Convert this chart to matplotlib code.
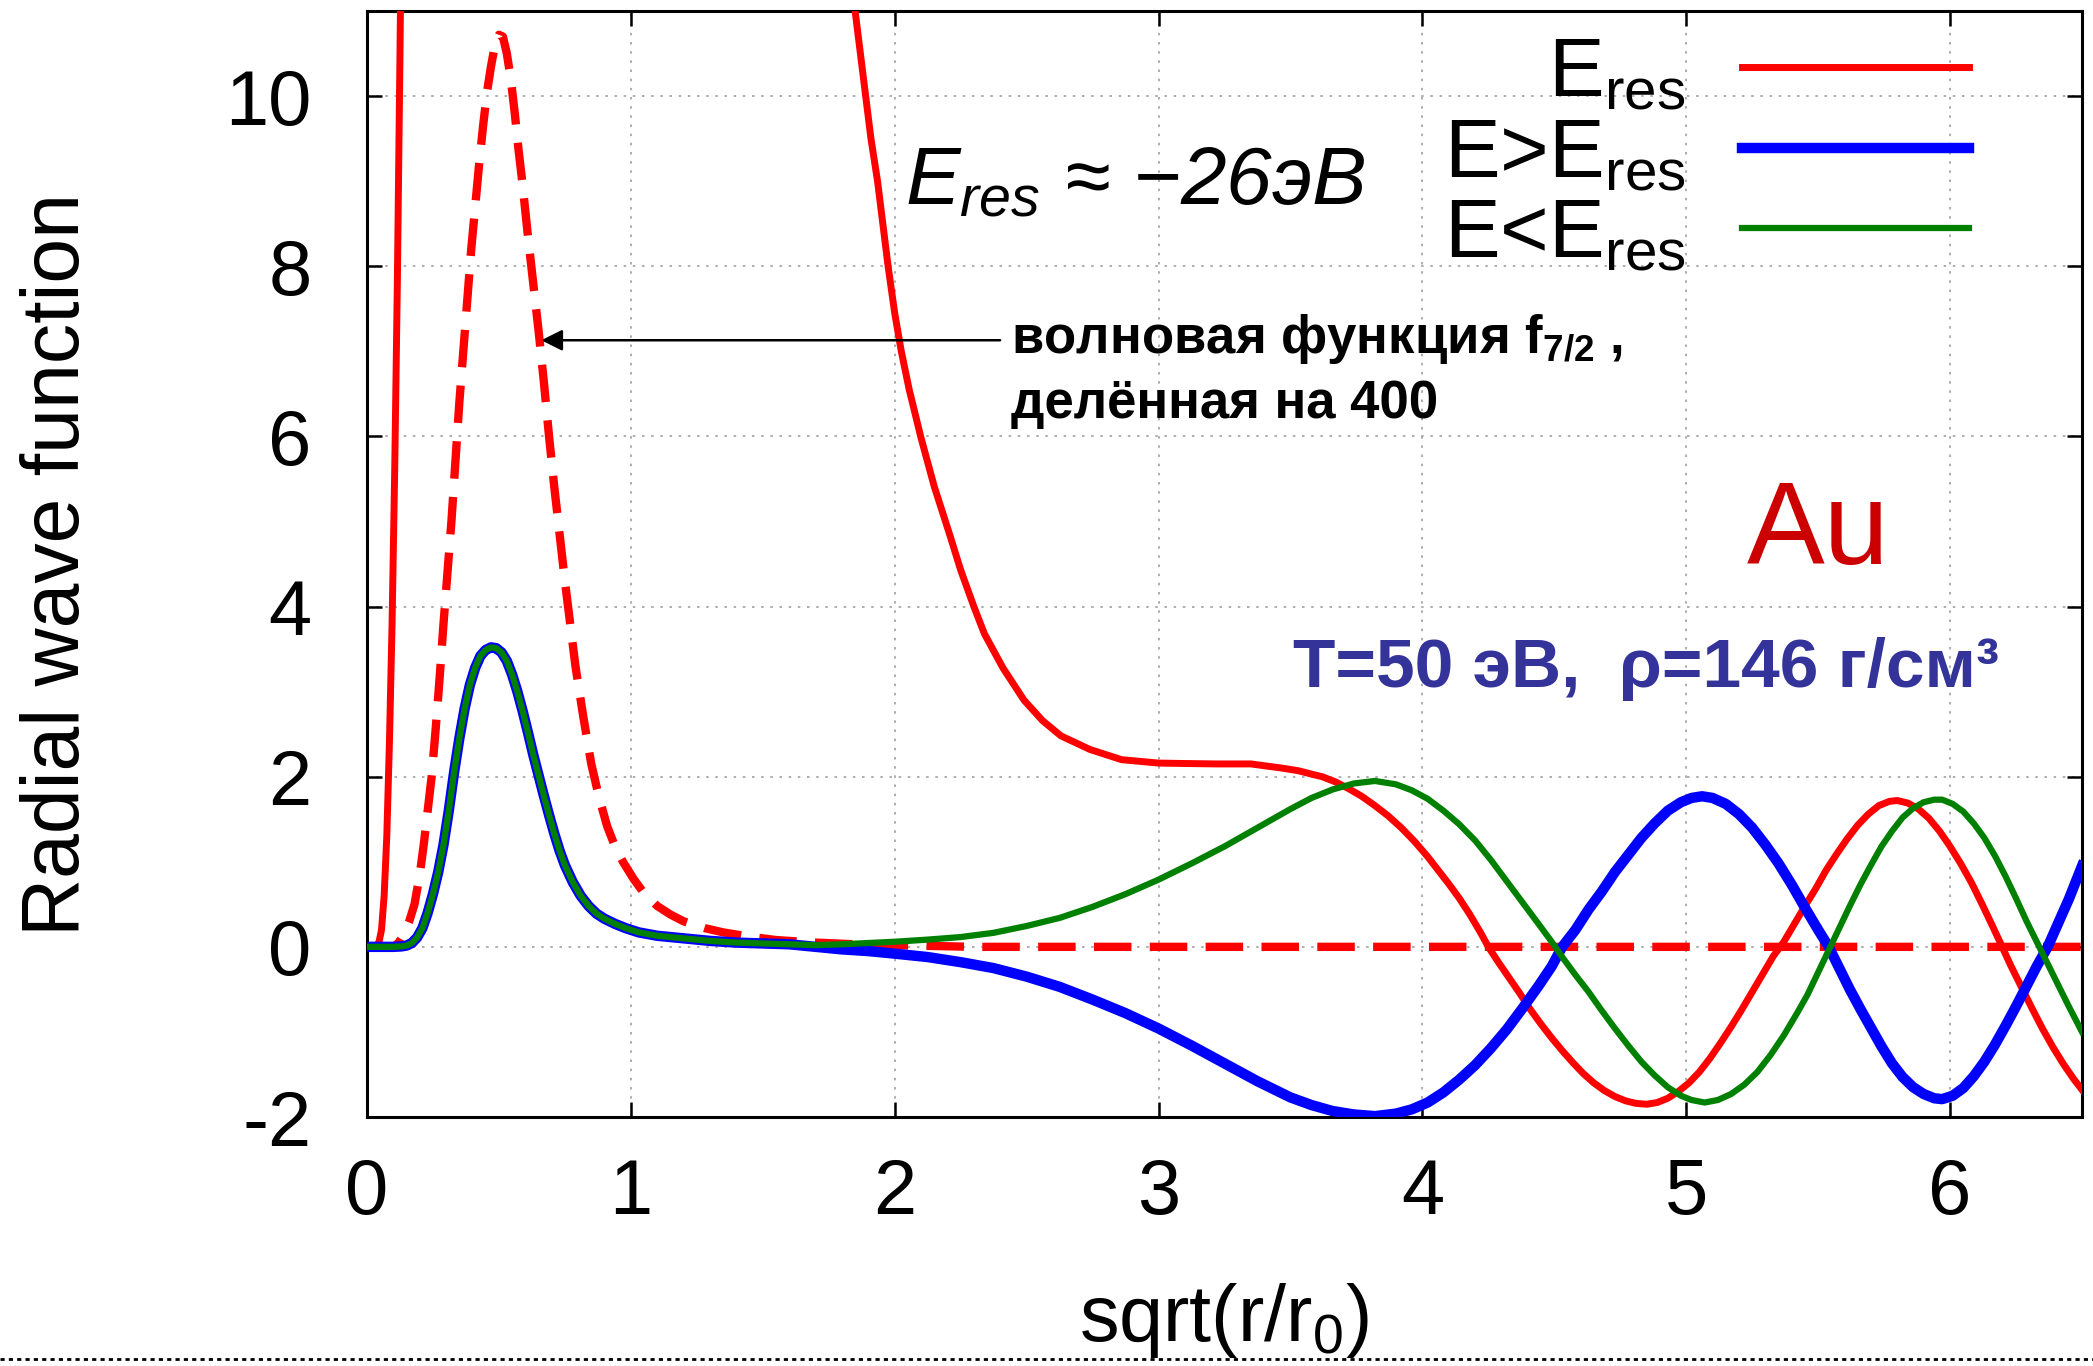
import matplotlib
matplotlib.use("Agg")
import matplotlib.pyplot as plt
from matplotlib.lines import Line2D

plt.rcParams['font.family'] = ['Liberation Sans', 'DejaVu Sans']
plt.rcParams['mathtext.fontset'] = 'custom'
plt.rcParams['mathtext.rm'] = 'Liberation Sans'
plt.rcParams['mathtext.it'] = 'Liberation Sans:italic'
plt.rcParams['mathtext.bf'] = 'Liberation Sans:bold'
plt.rcParams['axes.unicode_minus'] = False

# --- data ---
# E = E_res (red solid); off scale between ~0.13 and ~1.8
x_res = [0.0, 0.03, 0.045, 0.055, 0.065, 0.075, 0.085, 0.095, 0.105, 0.115,
         0.125, 0.135, 0.15,
         1.78, 1.80, 1.83, 1.85, 1.87, 1.89, 1.91, 1.935, 1.955, 1.975, 2.0,
         2.025, 2.055, 2.10, 2.15, 2.21, 2.25, 2.30, 2.34, 2.41, 2.49,
         2.56, 2.63, 2.74, 2.86, 3.0, 3.1, 3.22, 3.35, 3.47, 3.53,
         3.58, 3.62, 3.67, 3.72, 3.77, 3.82,
         3.87, 3.92, 3.97, 4.02, 4.06, 4.10, 4.14, 4.18, 4.22, 4.25,
         4.29, 4.33, 4.37, 4.41, 4.45, 4.49, 4.53, 4.57, 4.61, 4.65,
         4.69, 4.73, 4.77, 4.81, 4.85, 4.89, 4.93, 4.97, 5.01, 5.05,
         5.09, 5.13, 5.17, 5.21, 5.25, 5.29, 5.33, 5.37, 5.41, 5.45,
         5.49, 5.53, 5.57, 5.61, 5.65, 5.69, 5.73, 5.77, 5.80, 5.84,
         5.88, 5.92, 5.96, 6.00, 6.04, 6.08, 6.12, 6.16, 6.19, 6.23,
         6.27, 6.31, 6.35, 6.39, 6.43, 6.47, 6.5]
y_res = [0.0, 0.0, 0.05, 0.2, 0.6, 1.3, 2.4, 3.8, 5.6, 7.8,
         10.5, 13.5, 17.0,
         13.5, 12.3, 11.5, 11.0, 10.5, 10.0, 9.5, 9.0, 8.5, 8.0, 7.45,
         7.0, 6.55, 5.98, 5.41, 4.83, 4.43, 4.0, 3.68, 3.28, 2.90,
         2.66, 2.48, 2.32, 2.20, 2.16, 2.155, 2.15, 2.15, 2.10, 2.07,
         2.03, 2.0, 1.94, 1.86, 1.77, 1.66,
         1.54, 1.40, 1.24, 1.06, 0.9, 0.74, 0.57, 0.38, 0.17, 0.0,
         -0.19, -0.37, -0.55, -0.74, -0.91, -1.07, -1.22, -1.36, -1.49, -1.60,
         -1.69, -1.76, -1.81, -1.84, -1.85, -1.83, -1.78, -1.70, -1.60, -1.47,
         -1.31, -1.13, -0.94, -0.74, -0.53, -0.32, -0.11, 0.06, 0.27, 0.48,
         0.68, 0.90, 1.09, 1.27, 1.43, 1.56, 1.66, 1.71, 1.72, 1.69,
         1.62, 1.51, 1.36, 1.18, 0.98, 0.76, 0.51, 0.25, 0.05, -0.22,
         -0.47, -0.72, -0.96, -1.18, -1.38, -1.56, -1.68]

# f_7/2 wave function divided by 400 (red dashed)
x_f72 = [0.0, 0.10, 0.12, 0.14, 0.16, 0.18, 0.20, 0.215, 0.23, 0.245,
         0.26, 0.275, 0.29, 0.305, 0.32, 0.335, 0.35, 0.365, 0.38, 0.395,
         0.41, 0.425, 0.44, 0.455, 0.47, 0.485, 0.50, 0.515, 0.53, 0.545,
         0.56, 0.575, 0.59, 0.61, 0.63, 0.65, 0.67, 0.69, 0.71, 0.73,
         0.75, 0.77, 0.79, 0.82, 0.85, 0.88, 0.91, 0.94, 0.97, 1.01,
         1.05, 1.1, 1.15, 1.2, 1.28, 1.35, 1.45, 1.55, 1.7, 1.85,
         2.0, 2.3, 6.5]
y_f72 = [0.0, 0.0, 0.05, 0.15, 0.3, 0.5, 0.85, 1.2, 1.6, 2.0,
         2.55, 3.15, 3.8, 4.4, 5.0, 5.7, 6.4, 7.0, 7.6, 8.2,
         8.7, 9.2, 9.65, 10.05, 10.35, 10.6, 10.72, 10.7, 10.5, 10.2,
         9.8, 9.35, 8.95, 8.35, 7.8, 7.25, 6.65, 6.0, 5.4, 4.85,
         4.3, 3.8, 3.3, 2.7, 2.15, 1.75, 1.42, 1.18, 1.0, 0.8,
         0.63, 0.48, 0.38, 0.3, 0.22, 0.17, 0.12, 0.08, 0.05, 0.03,
         0.02, 0.0, 0.0]

# common inner part of E>E_res and E<E_res
x_core = [0.0, 0.10, 0.13, 0.15, 0.17, 0.19, 0.21, 0.23, 0.25, 0.27,
          0.29, 0.31, 0.33, 0.35, 0.37, 0.39, 0.41, 0.43, 0.45, 0.47,
          0.49, 0.51, 0.53, 0.55, 0.57, 0.59, 0.61, 0.63, 0.65, 0.67,
          0.69, 0.71, 0.73, 0.75, 0.78, 0.81, 0.84, 0.87, 0.90, 0.94,
          0.98, 1.03, 1.1, 1.2, 1.3, 1.4, 1.5, 1.6]
y_core = [0.0, 0.0, 0.005, 0.015, 0.045, 0.11, 0.22, 0.4, 0.62, 0.88,
          1.2, 1.6, 2.05, 2.45, 2.8, 3.08, 3.28, 3.42, 3.49, 3.52,
          3.51, 3.46, 3.36, 3.2, 3.0, 2.77, 2.52, 2.26, 2.02, 1.78,
          1.55, 1.33, 1.13, 0.96, 0.76, 0.6, 0.48, 0.39, 0.33, 0.27,
          0.22, 0.17, 0.13, 0.1, 0.07, 0.05, 0.04, 0.03]

# E > E_res (blue)
x_hi = x_core + [1.7, 1.8, 1.9, 2.0, 2.125, 2.25, 2.375, 2.5, 2.625, 2.75,
                 2.875, 3.0, 3.125, 3.25, 3.375, 3.5, 3.58, 3.66, 3.74, 3.82,
                 3.90, 3.96, 4.02, 4.08, 4.14, 4.20, 4.26, 4.32, 4.38, 4.44,
                 4.49, 4.53, 4.58, 4.63, 4.68, 4.73, 4.78, 4.83, 4.88, 4.93,
                 4.98, 5.02, 5.06, 5.10, 5.15, 5.20, 5.25, 5.30, 5.35, 5.40,
                 5.45, 5.50, 5.54, 5.58, 5.62, 5.66, 5.70, 5.74, 5.78, 5.82,
                 5.86, 5.90, 5.94, 5.97, 6.01, 6.05, 6.09, 6.13, 6.17, 6.21,
                 6.25, 6.29, 6.33, 6.37, 6.41, 6.45, 6.5]
y_hi = y_core + [0.0, -0.03, -0.05, -0.08, -0.12, -0.18, -0.25, -0.35, -0.47, -0.62,
                 -0.78, -0.96, -1.16, -1.37, -1.58, -1.77, -1.86, -1.93, -1.97, -1.99,
                 -1.96, -1.91, -1.83, -1.71, -1.56, -1.39, -1.19, -0.97, -0.72, -0.46,
                 -0.23, 0.0, 0.2, 0.44, 0.65, 0.88, 1.08, 1.28, 1.45, 1.6,
                 1.7, 1.75, 1.77, 1.75, 1.68, 1.56, 1.40, 1.2, 0.98, 0.73,
                 0.46, 0.2, 0.0, -0.25, -0.5, -0.73, -0.95, -1.17, -1.37, -1.53,
                 -1.65, -1.73, -1.78, -1.79, -1.75, -1.66, -1.52, -1.35, -1.15, -0.93,
                 -0.7, -0.46, -0.22, 0.0, 0.28, 0.56, 0.95]

# E < E_res (green)
x_lo = x_core + [1.7, 1.8, 1.9, 2.0, 2.125, 2.25, 2.375, 2.5, 2.625, 2.75,
                 2.875, 3.0, 3.125, 3.25, 3.375, 3.5, 3.58, 3.66, 3.74, 3.82,
                 3.90, 3.96, 4.02, 4.08, 4.14, 4.20, 4.26, 4.32, 4.38, 4.44,
                 4.49, 4.53, 4.58, 4.63, 4.68, 4.73, 4.78, 4.83, 4.88, 4.93,
                 4.98, 5.02, 5.07, 5.12, 5.17, 5.22, 5.27, 5.32, 5.37, 5.42,
                 5.46, 5.50, 5.54, 5.58, 5.62, 5.66, 5.70, 5.74, 5.78, 5.82,
                 5.86, 5.90, 5.94, 5.97, 6.01, 6.05, 6.09, 6.13, 6.17, 6.21,
                 6.25, 6.29, 6.33, 6.37, 6.41, 6.45, 6.5]
y_lo = y_core + [0.02, 0.03, 0.045, 0.06, 0.085, 0.115, 0.165, 0.245, 0.34, 0.47,
                 0.62, 0.79, 0.98, 1.18, 1.4, 1.62, 1.75, 1.85, 1.92, 1.95,
                 1.91, 1.84, 1.74, 1.6, 1.44, 1.25, 1.02, 0.77, 0.52, 0.27,
                 0.06, -0.12, -0.33, -0.53, -0.75, -0.96, -1.16, -1.35, -1.51, -1.65,
                 -1.75, -1.8, -1.83, -1.8, -1.73, -1.62, -1.47, -1.27, -1.04, -0.78,
                 -0.56, -0.3, -0.04, 0.22, 0.48, 0.73, 0.96, 1.18, 1.36, 1.52,
                 1.63, 1.7, 1.73, 1.73, 1.68, 1.59, 1.45, 1.28, 1.07, 0.83,
                 0.57, 0.3, 0.05, -0.2, -0.45, -0.7, -1.0]

labels = [r'E$_{\mathregular{res}}$', r'E>E$_{\mathregular{res}}$', r'E<E$_{\mathregular{res}}$']
x_ticks = [0, 1, 2, 3, 4, 5, 6]
y_ticks = [-2, 0, 2, 4, 6, 8, 10]

fig = plt.figure(figsize=(20.93, 13.66), dpi=100)
ax = fig.add_axes([367 / 2093, 1 - 1117 / 1366, (2082 - 367) / 2093, (1117 - 11) / 1366])

ax.plot(x_res, y_res, color='#ff0000', lw=5, label=labels[0], zorder=3)
ax.plot(x_f72, y_f72, color='#ff0000', lw=6, dashes=(4.5, 2.2), zorder=3)
ax.plot(x_hi, y_hi, color='#0000ff', lw=7.5, label=labels[1], zorder=4)
ax.plot(x_lo, y_lo, color='#008000', lw=4.5, label=labels[2], zorder=5)

ax.set_xlim(0, 6.5)
ax.set_ylim(-2, 11)
ax.set_xticks(x_ticks)
ax.set_yticks(y_ticks)
ax.grid(True, color='#a0a0a0', lw=1.2, linestyle=(0, (1.5, 4)))
ax.tick_params(direction='in', top=True, right=True, length=11, width=1.8,
               labelsize=56)
ax.tick_params(axis='x', pad=29)
ax.tick_params(axis='y', pad=40)
for s in ax.spines.values():
    s.set_linewidth(2.2)

ax.set_xlabel(r'sqrt(r/r$_{\mathregular{0}}$)', fontsize=57)
ax.xaxis.set_label_coords(0.5, -0.148)
ax.set_ylabel('Radial wave function', fontsize=58)
ax.yaxis.set_label_coords(-0.158, 0.5)

leg = ax.legend(loc='upper right', bbox_to_anchor=(0.934, 0.978), frameon=False,
                markerfirst=False, fontsize=60, handlelength=2.72,
                handletextpad=0.68, labelspacing=0.03, borderpad=0,
                borderaxespad=0)

ax.text(2.04, 8.72, r'$E_{res}$ ≈ −26эВ', fontsize=59, fontstyle='italic')

ax.annotate('', xy=(0.65, 7.13), xytext=(2.41, 7.13),
            arrowprops=dict(arrowstyle='-|>', color='black', lw=1.8,
                            mutation_scale=32))
ax.text(2.44, 6.98, r'волновая функция $\mathbf{f_{7/2}}$ ,', fontsize=38,
        fontweight='bold')
ax.text(2.44, 6.22, 'делённая на 400', fontsize=38, fontweight='bold')

ax.text(5.23, 4.5, 'Au', fontsize=84, color='#cc0000')
ax.text(3.51, 3.06, 'T=50 эВ,  ρ=146 г/см³', fontsize=50, fontweight='bold',
        color='#333399')

fig.add_artist(Line2D([0, 1], [0.005, 0.005], color='black', lw=2,
                      linestyle=(0, (1.5, 1.5))))

fig.savefig('out.png', dpi=100)
